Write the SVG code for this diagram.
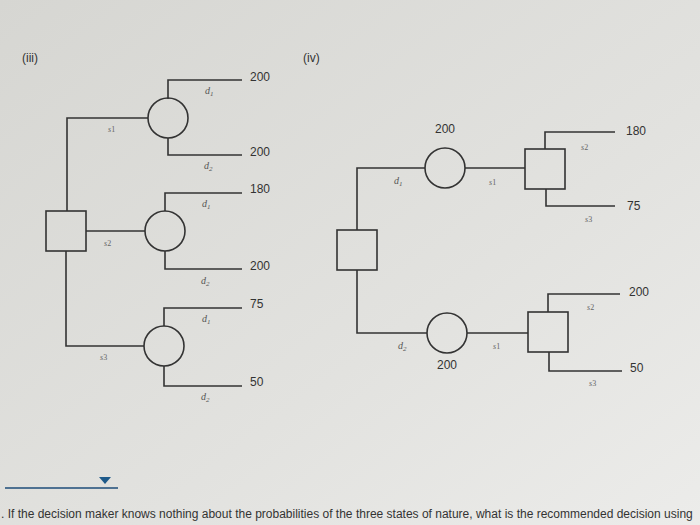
<svg xmlns="http://www.w3.org/2000/svg" width="700" height="525" viewBox="0 0 700 525">
<defs>
<linearGradient id="bg" x1="0" y1="0" x2="1" y2="1">
<stop offset="0" stop-color="#d6d6d2"/><stop offset="0.6" stop-color="#e2e2df"/><stop offset="1" stop-color="#ececea"/>
</linearGradient>
</defs>
<style>
.l{stroke:#333;stroke-width:1.6;fill:none}
.n{stroke:#333;stroke-width:1.6;fill:none}
.v{font-family:"Liberation Sans",Arial,sans-serif;font-size:12px;fill:#333}
.i{font-family:"Liberation Serif",serif;font-style:italic;font-size:10px;fill:#555}
.s{font-family:"Liberation Serif",serif;font-style:italic;font-size:8px;fill:#666}
</style>
<rect width="700" height="525" fill="url(#bg)"/>
<text class="v" x="22" y="62" font-size="10">(iii)</text>
<text class="v" x="303" y="62" font-size="10">(iv)</text>
<g id="connectors">
<path class="l" d="M67 211V118H148M168 99V80H242M168 138V155H242"/>
<path class="l" d="M86 231H145M165 211V193H242M165 251V269H242"/>
<path class="l" d="M66 251V346H144M164 326V308H242M164 366V386H242"/>
<path class="l" d="M357 230V168H425M465 168H525M545 149V132H615M546 189V206H615"/>
<path class="l" d="M357 270V333H427M467 333H528M548 312V294H620M549 352V371H622"/>
</g>
<g id="dA"><rect class="n" x="46" y="211" width="40" height="40"/></g>
<g id="c1"><circle class="n" cx="168" cy="118" r="20"/></g>
<g id="c2"><circle class="n" cx="165" cy="231" r="20"/></g>
<g id="c3"><circle class="n" cx="164" cy="346" r="20"/></g>
<g id="dB"><rect class="n" x="337" y="230" width="40" height="40"/></g>
<g id="c4"><circle class="n" cx="445" cy="168" r="20"/></g>
<g id="c5"><circle class="n" cx="447" cy="333" r="20"/></g>
<g id="q1"><rect class="n" x="525" y="149" width="40" height="40"/></g>
<g id="q2"><rect class="n" x="528" y="312" width="40" height="40"/></g>
<g id="labels">
<text class="v" x="250" y="81">200</text>
<text class="i" x="205" y="94">d<tspan font-size="7" dy="2">1</tspan></text>
<text class="v" x="250" y="156">200</text>
<text class="i" x="204" y="169">d<tspan font-size="7" dy="2">2</tspan></text>
<text class="s" x="108" y="132">s<tspan font-style="normal">1</tspan></text>
<text class="v" x="250" y="193">180</text>
<text class="i" x="202" y="207">d<tspan font-size="7" dy="2">1</tspan></text>
<text class="v" x="250" y="270">200</text>
<text class="i" x="201" y="284">d<tspan font-size="7" dy="2">2</tspan></text>
<text class="s" x="104" y="246">s<tspan font-style="normal">2</tspan></text>
<text class="v" x="250" y="308">75</text>
<text class="i" x="202" y="322">d<tspan font-size="7" dy="2">1</tspan></text>
<text class="v" x="250" y="386">50</text>
<text class="i" x="201" y="400">d<tspan font-size="7" dy="2">2</tspan></text>
<text class="s" x="100" y="360">s<tspan font-style="normal">3</tspan></text>
<text class="v" x="435" y="133">200</text>
<text class="i" x="394" y="184">d<tspan font-size="7" dy="2">1</tspan></text>
<text class="s" x="489" y="185">s<tspan font-style="normal">1</tspan></text>
<text class="v" x="626" y="135">180</text>
<text class="s" x="581" y="150">s<tspan font-style="normal">2</tspan></text>
<text class="v" x="627" y="210">75</text>
<text class="s" x="585" y="222">s<tspan font-style="normal">3</tspan></text>
<text class="i" x="398" y="349">d<tspan font-size="7" dy="2">2</tspan></text>
<text class="s" x="493" y="349">s<tspan font-style="normal">1</tspan></text>
<text class="v" x="437" y="369">200</text>
<text class="v" x="629" y="296">200</text>
<text class="s" x="587" y="310">s<tspan font-style="normal">2</tspan></text>
<text class="v" x="630" y="372">50</text>
<text class="s" x="589" y="386">s<tspan font-style="normal">3</tspan></text>
</g>
<line x1="5" y1="488" x2="118" y2="488" stroke="#1e4d78" stroke-width="1.5"/>
<polygon points="99,477 111,477 105,484" fill="#1e5a8a"/>
<text class="v" x="1" y="518" font-size="12.4" fill="#222">. If the decision maker knows nothing about the probabilities of the three states of nature, what is the recommended decision using</text>
</svg>
